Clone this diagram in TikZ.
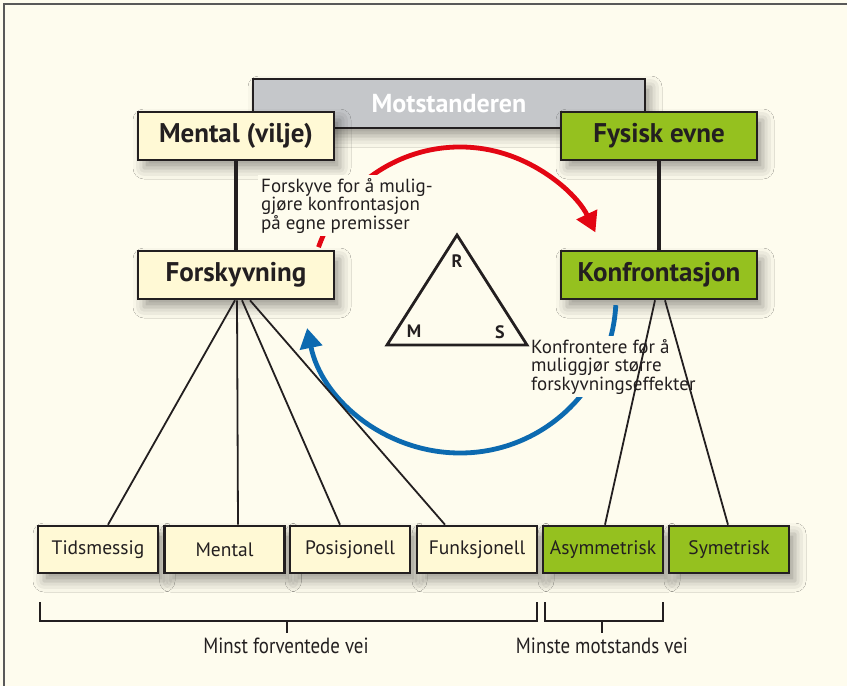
\documentclass[tikz,border=0pt]{standalone}
\usepackage{fontspec}
\setmainfont{PT Sans}
\newfontfamily\condfont[FakeStretch=0.86]{PT Sans}
\usetikzlibrary{shadows.blur,arrows.meta,calc}
\definecolor{bg}{HTML}{FEFCEE}
\definecolor{edge}{HTML}{231F20}
\definecolor{lightbox}{HTML}{FFF9D5}
\definecolor{greenbox}{HTML}{95C11F}
\definecolor{graybox}{HTML}{C5C7CA}
\definecolor{arcred}{HTML}{E30613}
\definecolor{arcblue}{HTML}{0C6AB0}
\definecolor{txt}{HTML}{231F20}
\begin{document}
\begin{tikzpicture}[x=1pt,y=-1pt,
  shadowed/.style={blur shadow={shadow xshift=6pt, shadow yshift=-8pt, shadow blur radius=11pt, shadow opacity=38}},
  box/.style={draw=edge, line width=2.6pt, inner sep=0pt, text=txt, shadowed},
  bigbox/.style={box, minimum width=196pt, minimum height=48pt, font=\bfseries\fontsize{27}{30}\selectfont},
  smallbox/.style={box, minimum width=120pt, minimum height=47pt, font=\fontsize{19.5}{22}\selectfont},
  light/.style={fill=lightbox},
  green/.style={fill=greenbox},
  thinlink/.style={draw=edge, line width=1.8pt},
  thicklink/.style={draw=edge, line width=3.6pt},
  note/.style={anchor=north west, align=left, fill=bg, inner sep=3pt, text=txt, font=\fontsize{19}{18.5}\selectfont},
  bracket/.style={draw=edge, line width=2pt},
  bracketlabel/.style={text=txt, font=\condfont\fontsize{22}{24}\selectfont},
  corner/.style={text=txt, font=\bfseries\fontsize{18}{20}\selectfont},
  arcline/.style={line width=4.8pt}
]
\useasboundingbox (0,0) rectangle (847,686);
\fill[bg] (0,0) rectangle (847,686);
\draw[gray!70!black, line width=1.5pt] (4,686) -- (4,4) -- (847,4);

% top
\node[box, fill=graybox, minimum width=392pt, minimum height=49pt, text=white,
      font=\bfseries\fontsize{26}{28}\selectfont] (mot) at (449,103.5) {Motstanderen};
\node[bigbox, light] (mental) at (236,136) {Mental (vilje)};
\node[bigbox, green] (fysisk) at (659,136) {Fysisk evne};

% vertical connectors
\path[thicklink] (mental.south) -- (236,250);
\path[thicklink] (fysisk.south) -- (659,250);

\node[bigbox, light] (forsk) at (236,275) {Forskyvning};
\node[bigbox, green] (konf) at (659,275) {Konfrontasjon};

% arcs
\coordinate (c) at (460,297);
\draw[arcline, arcred, -{Triangle[length=20pt,width=22pt]}]
  ($(c)+(199.4:150)$) arc[start angle=199.4, end angle=334.5, radius=150];
\draw[arcline, arcblue, -{Triangle[length=20pt,width=22pt]}]
  ($(c)+(3:156)$) arc[start angle=3, end angle=168.5, radius=156];

\node[note] (n1) at (258,175) {Forskyve for å mulig-\\gjøre konfrontasjon\\på egne premisser};
\node[note] (n2) at (528,336) {Konfrontere før å\\muliggjør større\\forskyvningseffekter};

% triangle
\coordinate (tR) at (457,235);
\coordinate (tM) at (387,345);
\coordinate (tS) at (527,345);
\draw[edge, line width=2.8pt, line join=miter] (tR) -- (tS) -- (tM) -- cycle;
\node[corner] (lR) at (457,261) {R};
\node[corner] (lM) at (414,331) {M};
\node[corner] (lS) at (500,332) {S};

% bottom boxes
\node[smallbox, light] (tids) at (98,549.5) {Tidsmessig};
\node[smallbox, light] (ment) at (224.5,549.5) {Mental};
\node[smallbox, light] (pos) at (350,549.5) {Posisjonell};
\node[smallbox, light] (funk) at (477,549.5) {Funksjonell};
\node[smallbox, green] (asym) at (603,549.5) {Asymmetrisk};
\node[smallbox, green] (sym) at (729,549.5) {Symetrisk};

% links
\path[thinlink] ([xshift=-1pt]forsk.south) -- ([xshift=10pt]tids.north);
\path[thinlink] ([xshift=1pt]forsk.south) -- ([xshift=13.5pt]ment.north);
\path[thinlink] ([xshift=6pt]forsk.south) -- ([xshift=-10pt]pos.north);
\path[thinlink] ([xshift=14pt]forsk.south) -- ([xshift=-32pt]funk.north);
\path[thinlink] ([xshift=-4pt]konf.south) -- ([xshift=2pt]asym.north);
\path[thinlink] ([xshift=6pt]konf.south) -- ([xshift=-1pt]sym.north);

% brackets
\coordinate (b1a) at (40,602);
\coordinate (b1b) at (537,602);
\coordinate (b2a) at (545,602);
\coordinate (b2b) at (663,602);
\draw[bracket] (b1a) -- (40,621) -- (537,621) -- (b1b);
\draw[bracket] (287,621) -- (287,633);
\draw[bracket] (b2a) -- (545,621) -- (663,621) -- (b2b);
\draw[bracket] (602,621) -- (602,633);
\node[bracketlabel] (lab1) at (286,646) {Minst forventede vei};
\node[bracketlabel] (lab2) at (602,646) {Minste motstands vei};
\end{tikzpicture}
\end{document}
